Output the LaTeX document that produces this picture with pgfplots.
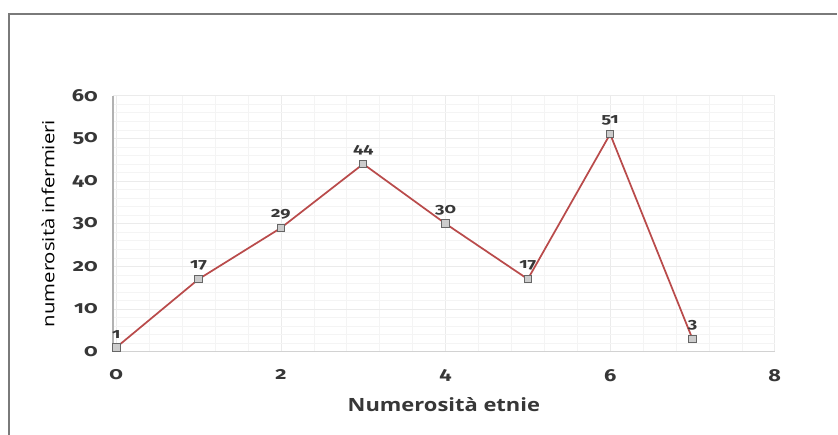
\documentclass[border=0pt]{standalone}
\usepackage{fontspec}
\setmainfont{Open Sans}
\newfontfamily\numfont{Fira Sans}[Numbers=OldStyle]
\usepackage{graphicx}
\usepackage{pgfplots}
\pgfplotsset{compat=1.18}
\definecolor{linered}{RGB}{185,75,75}
\definecolor{framegray}{RGB}{122,122,122}
\definecolor{txt}{RGB}{55,55,55}
\begin{document}
\begin{tikzpicture}
\useasboundingbox (0,0) rectangle (628.5pt,326.25pt);
% outer chart frame
\draw[framegray, line width=1.5pt] (6.4pt,-10pt) -- (6.4pt,316.1pt) -- (627.75pt,316.1pt);
\begin{axis}[
  at={(84.75pt,62.5pt)}, anchor=south west,
  scale only axis, width=496.3pt, height=192pt,
  xmin=-0.04, xmax=8, ymin=0, ymax=60,
  xtick={0,2,4,6,8}, ytick={0,10,...,60},
  minor x tick num=4, minor y tick num=4,
  grid=both,
  major grid style={gray!16, line width=0.5pt},
  minor grid style={gray!9, line width=0.4pt},
  axis x line*=bottom, axis y line*=left,
  x axis line style={gray!35, line width=1.2pt, -},
  y axis line style={gray!60, line width=1.4pt, -},
  tick style={draw=none},
  /pgf/number format/assume math mode=true,
  ticklabel style={font=\numfont\fontsize{13}{15}\selectfont\bfseries, text=txt},
  xticklabel={\scalebox{1.25}[1]{\pgfmathprintnumber{\tick}}},
  yticklabel={\scalebox{1.25}[1]{\pgfmathprintnumber{\tick}}},
  xticklabel style={yshift=-10pt},
  yticklabel style={xshift=-8pt},
  xlabel={\scalebox{1.2}[1]{Numerosità etnie}},
  xlabel style={font=\fontsize{13.7}{16}\selectfont\bfseries, text=txt,
    at={(axis description cs:0.5,-0.205)}, anchor=center},
  ylabel={\scalebox{1.22}[1]{numerosità infermieri}},
  ylabel style={font=\fontsize{12.5}{15}\selectfont, text=black,
    at={(axis description cs:-0.098,0.5)}, anchor=center},
  clip=false,
]
\addplot[linered, line width=1.3pt, mark=square*,
  mark options={draw=gray!80!black, fill=gray!40, line width=0.7pt, mark size=2.8pt},
  nodes near coords={\scalebox{1.3}[1]{\pgfmathprintnumber{\pgfplotspointmeta}}},
  every node near coord/.append style={font=\numfont\fontsize{10.5}{12}\selectfont\bfseries, text=txt, yshift=3pt},
] coordinates {
  (0,1) (1,17) (2,29) (3,44) (4,30) (5,17) (6,51) (7,3)
};
\end{axis}
\end{tikzpicture}
\end{document}
